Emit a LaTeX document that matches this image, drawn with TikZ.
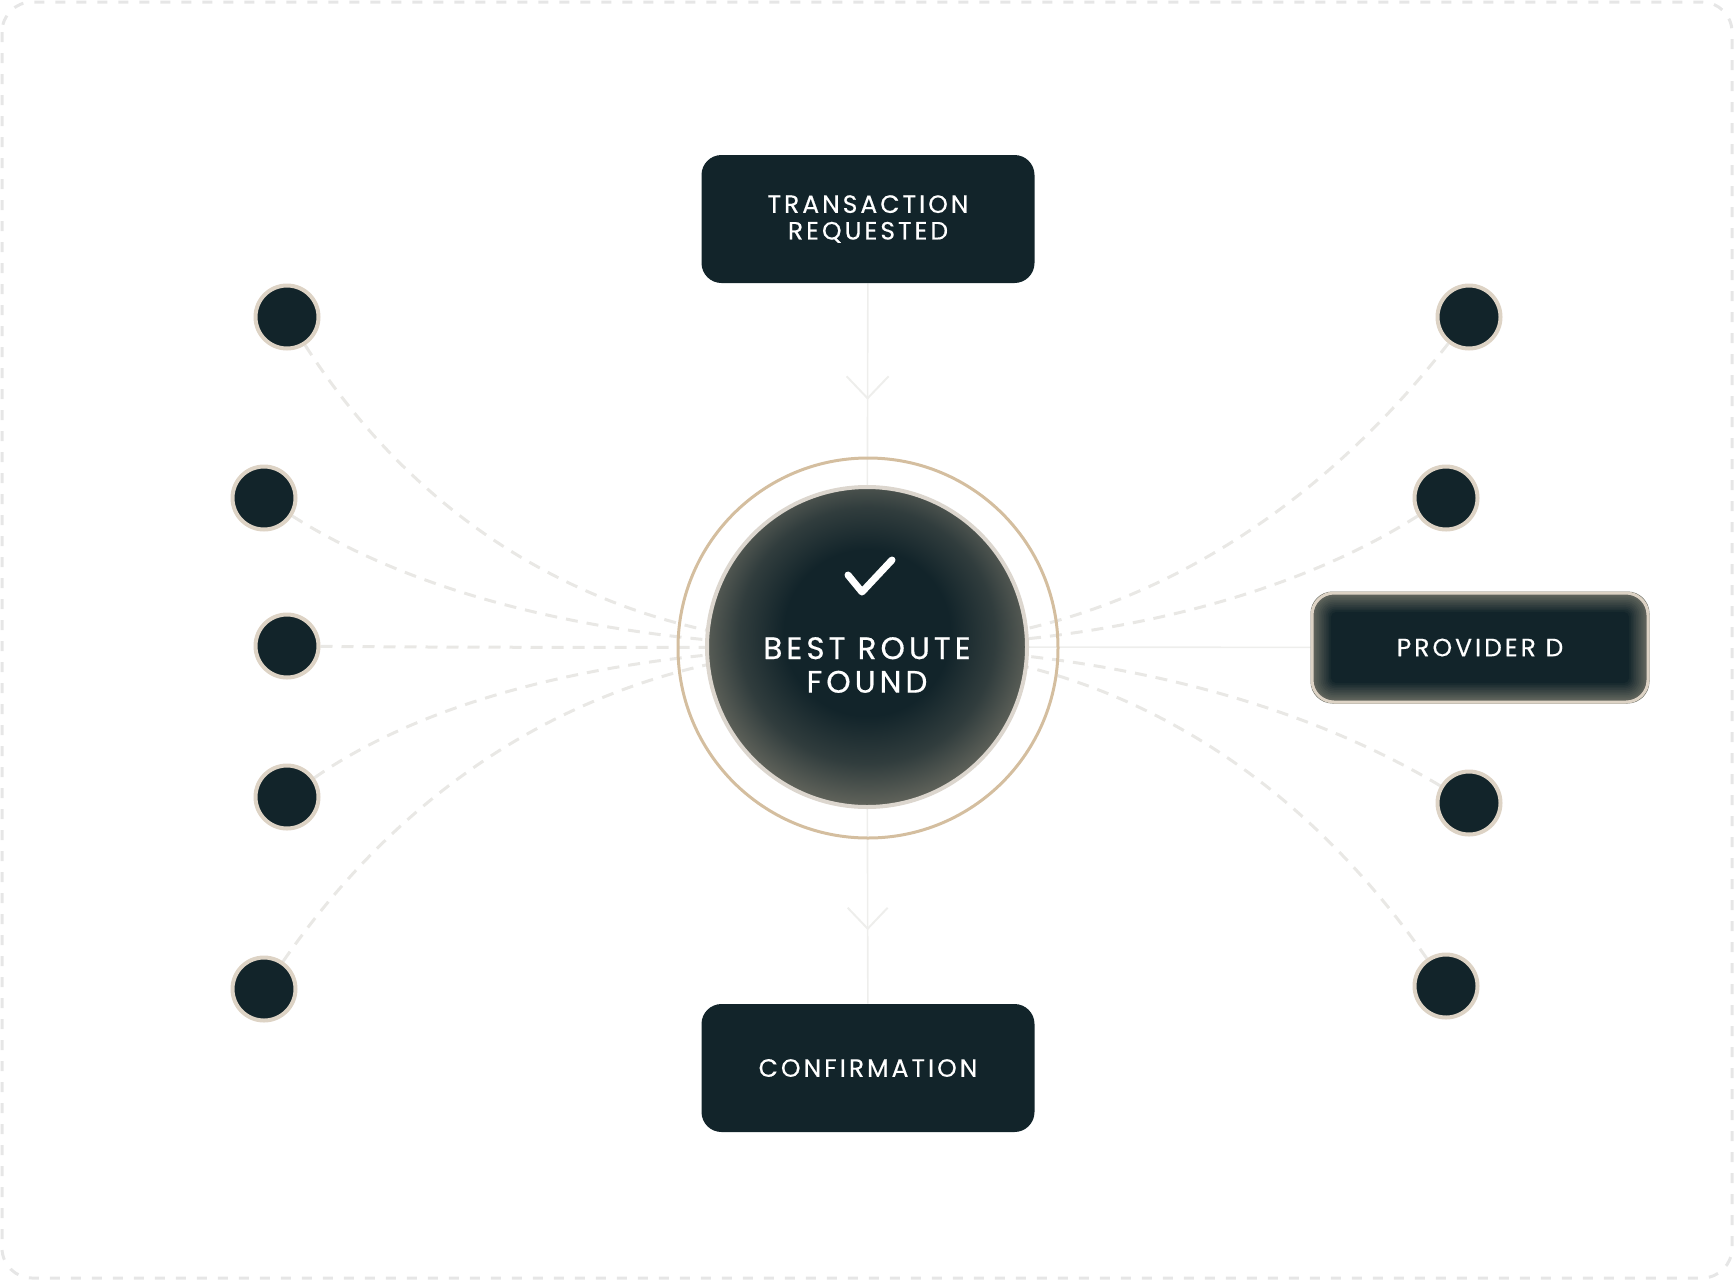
\documentclass[tikz,border=0pt]{standalone}
\usepackage{fontspec}
\setmainfont{Poppins}
\newfontfamily\labelfont{Poppins}[LetterSpace=12, FakeBold=0.4]
\newfontfamily\hubfont{Poppins}[LetterSpace=13, FakeBold=0.5]
\usetikzlibrary{positioning,calc,backgrounds}

\definecolor{boxdark}{HTML}{12242A}
\definecolor{hubedge}{HTML}{5F625A}
\definecolor{provedge}{HTML}{6C6E64}
\definecolor{dotrim}{HTML}{DDD3C5}
\definecolor{ringtan}{HTML}{D4BE9F}
\definecolor{hubrim}{HTML}{DCD6CE}
\definecolor{routegray}{HTML}{E9E8E5}
\definecolor{feedgray}{HTML}{EEEEEC}
\definecolor{framegray}{HTML}{E6E6E6}

% glow inside the hub, darker in the middle
\pgfdeclareradialshading{hubglow}{\pgfpoint{0bp}{3bp}}{color(0bp)=(boxdark); color(13bp)=(boxdark); color(20bp)=(boxdark!60!hubedge); color(26bp)=(hubedge); color(50bp)=(hubedge)}

\begin{document}
\begin{tikzpicture}[x=0.5pt, y=-0.5pt,
	stage/.style={rounded corners=10pt, fill=boxdark, text=white, align=center,
		minimum width=166.5pt, minimum height=64pt, font=\labelfont\fontsize{12.5}{13.3}\selectfont},
	hubtext/.style={text=white, align=center, font=\hubfont\fontsize{15.5}{16.8}\selectfont},
	relay/.style={circle, fill=boxdark, draw=dotrim, line width=2pt, minimum size=31.5pt, inner sep=0pt},
	route/.style={routegray, line width=1.5pt, dash pattern=on 6pt off 4.5pt},
	feed/.style={feedgray, line width=0.8pt}]
	
	% canvas and frame
	\useasboundingbox (0,0) rectangle (1734,1280);
	\draw[framegray, line width=1.5pt, dash pattern=on 5pt off 5.5pt, rounded corners=15pt] (2,2) rectangle (1732,1278);
	
	% flow boxes
	\node[stage] (req) at (868,219) {TRANSACTION\\REQUESTED};
	\node[stage] (conf) at (868,1068) {CONFIRMATION};
	
	% hub with ring
	\node[circle, draw=ringtan, line width=1.5pt, minimum size=190pt] (ring) at (868,648) {};
	\node[circle, shading=hubglow, draw=hubrim, line width=2pt, minimum size=160pt] (hub) at (867,647) {};
	\node[hubtext] (hublbl) at (867,665) {BEST ROUTE\\FOUND};
	\draw[white, line width=3.5pt, line cap=round, line join=round]
		($(hub.center)+(-19,-72)$) -- ($(hub.center)+(-5,-55)$) -- ($(hub.center)+(25,-87)$);
	
	% chosen provider
	\node[draw=dotrim, line width=1.5pt, rounded corners=11pt, minimum width=168pt, minimum height=54.5pt,
		text=white, font=\labelfont\fontsize{12.5}{13.3}\selectfont] (prov) at (1480,647.5) {PROVIDER D};
	
	% other providers
	\foreach \n/\x/\y in {lp1/287/317, lp2/264/498, lp3/287/646, lp4/287/797, lp5/264/989}
		\node[relay] (\n) at (\x,\y) {};
	\foreach \n/\x/\y in {rp1/1469/317, rp2/1446/498, rp3/1469/803, rp4/1446/986}
		\node[relay] (\n) at (\x,\y) {};
	
	% bend points of the routes
	\coordinate (lbend) at (500,648);
	\coordinate (rbend) at (1210,648);
	
	\begin{scope}[on background layer]
		% routes into the hub
		\foreach \n in {lp1,lp2,lp3,lp4,lp5}
			\draw[route] (\n) .. controls ($(\n)!2/3!(lbend)$) and ($(hub.center)!2/3!(lbend)$) .. (hub.center);
		\foreach \n in {rp1,rp2,rp3,rp4}
			\draw[route] (\n) .. controls ($(\n)!2/3!(rbend)$) and ($(hub.center)!2/3!(rbend)$) .. (hub.center);
		\draw[feed] (hub) -- (prov);
		
		% main flow
		\draw[feed] (req) -- coordinate[pos=0.316] (tdown) (hub.center);
		\draw[feed] (hub.center) -- coordinate[pos=0.79] (bdown) (conf);
		\draw[feed, line width=1pt] ($(tdown)+(-21,-22)$) -- (tdown) -- ($(tdown)+(21,-22)$);
		\draw[feed, line width=1pt] ($(bdown)+(-20,-21)$) -- (bdown) -- ($(bdown)+(20,-21)$);
		
		% glow of provider D
		\foreach \k in {0,...,12} {
			\pgfmathtruncatemacro\mix{100*\k/12}
			\pgfmathsetmacro\rad{max(11-0.7*\k,2)}
			\fill[boxdark!\mix!provedge, rounded corners=\rad pt]
				($(prov.north west)+(\k*1.7,\k*1.7)$) rectangle ($(prov.south east)-(\k*1.7,\k*1.7)$);
		}
	\end{scope}
	
\end{tikzpicture}
\end{document}
